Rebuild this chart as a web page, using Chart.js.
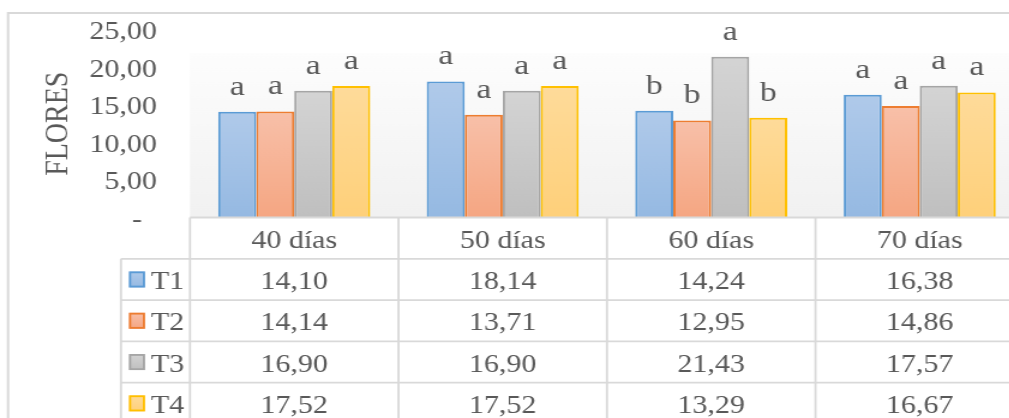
<!DOCTYPE html>
<html>
<head>
<meta charset="utf-8">
<script src="https://cdn.jsdelivr.net/npm/chart.js@4.4.1/dist/chart.umd.min.js"></script>
<style>
  html, body { margin: 0; padding: 0; overflow: hidden; background: #fff; }
  /* the sheet is drawn narrower, then widened horizontally */
  #wrap { width: 880px; height: 418px; transform: scaleX(1.2); transform-origin: 0 0; }
</style>
</head>
<body>
<div id="wrap"><canvas id="c" width="880" height="418"></canvas></div>
<script>
// ---- data ----
const categories = ['40 días', '50 días', '60 días', '70 días'];
const seriesNames = ['T1', 'T2', 'T3', 'T4'];
const t1Values = [14.10, 18.14, 14.24, 16.38];
const t2Values = [14.14, 13.71, 12.95, 14.86];
const t3Values = [16.90, 16.90, 21.43, 17.57];
const t4Values = [17.52, 17.52, 13.29, 16.67];
const t1Letters = ['a', 'a', 'b', 'a'];
const t2Letters = ['a', 'a', 'b', 'a'];
const t3Letters = ['a', 'a', 'a', 'a'];
const t4Letters = ['a', 'a', 'b', 'a'];
const yTicks = [0, 5, 10, 15, 20, 25];
const yTitle = 'FLORES';

const seriesValues = [t1Values, t2Values, t3Values, t4Values];
const seriesLetters = [t1Letters, t2Letters, t3Letters, t4Letters];

// ---- styles ----
const FONT = "'Liberation Serif', 'Times New Roman', serif";
const TEXT = '#595959';
const GRID = '#d9d9d9';
const palette = [
  { top: '#b0caea', bottom: '#95b9e2', border: '#5b9bd5' },
  { top: '#f8c0a9', bottom: '#f5a682', border: '#ed7d31' },
  { top: '#d4d4d4', bottom: '#bfbfbf', border: '#a5a5a5' },
  { top: '#fedb9a', bottom: '#fed07a', border: '#ffc000' }
];
const fmt = v => v.toFixed(2).replace('.', ',');

function barFill(i) {
  return (ctx) => {
    const chart = ctx.chart;
    const area = chart.chartArea;
    if (!area || ctx.type !== 'data') return palette[i].top;
    const top = chart.scales.y.getPixelForValue(ctx.raw);
    const g = chart.ctx.createLinearGradient(0, top, 0, area.bottom);
    g.addColorStop(0, palette[i].top);
    g.addColorStop(1, palette[i].bottom);
    return g;
  };
}

// outer frame and plot-area shading
const framePlugin = {
  id: 'frame',
  beforeDraw(chart) {
    const { ctx, chartArea: a, width, height } = chart;
    ctx.save();
    ctx.fillStyle = '#ffffff';
    ctx.fillRect(0, 0, width, height);
    const shadeTop = 53;
    const g = ctx.createLinearGradient(0, shadeTop, 0, a.bottom);
    g.addColorStop(0, '#fdfdfd');
    g.addColorStop(1, '#f1f1f1');
    ctx.fillStyle = g;
    ctx.fillRect(a.left, shadeTop, a.right - a.left, a.bottom - shadeTop);
    ctx.strokeStyle = GRID;
    ctx.lineWidth = 2;
    ctx.beginPath();
    ctx.moveTo(6.7, height);
    ctx.lineTo(6.7, 13);
    ctx.lineTo(width, 13);
    ctx.stroke();
    ctx.restore();
  }
};

// significance letters above each bar
const lettersPlugin = {
  id: 'letters',
  afterDatasetsDraw(chart) {
    const ctx = chart.ctx;
    ctx.save();
    ctx.fillStyle = TEXT;
    ctx.font = `28px ${FONT}`;
    ctx.textAlign = 'center';
    ctx.textBaseline = 'alphabetic';
    chart.data.datasets.forEach((ds, i) => {
      chart.getDatasetMeta(i).data.forEach((bar, j) => {
        ctx.fillText(seriesLetters[i][j], bar.x, bar.y - 17);
      });
    });
    ctx.restore();
  }
};

// data table under the plot
const tablePlugin = {
  id: 'dataTable',
  afterDraw(chart) {
    const { ctx, chartArea: a, width, height } = chart;
    const xs = chart.scales.x;
    const rowH = 41.3;
    const top = a.bottom;
    const legendLeft = 100.8;
    const half = (a.right - a.left) / categories.length / 2;
    ctx.save();
    ctx.strokeStyle = GRID;
    ctx.lineWidth = 1.8;
    ctx.beginPath();
    ctx.moveTo(a.left, top); ctx.lineTo(width, top);
    for (let r = 1; r <= seriesNames.length + 1; r++) {
      ctx.moveTo(legendLeft, top + r * rowH); ctx.lineTo(width, top + r * rowH);
    }
    ctx.moveTo(legendLeft, top + rowH); ctx.lineTo(legendLeft, height);
    ctx.moveTo(a.left, top); ctx.lineTo(a.left, height);
    categories.forEach((c, j) => {
      const xr = xs.getPixelForValue(j) + half;
      ctx.moveTo(xr, top); ctx.lineTo(xr, height);
    });
    ctx.stroke();

    ctx.fillStyle = TEXT;
    ctx.font = `25px ${FONT}`;
    ctx.textBaseline = 'alphabetic';
    ctx.textAlign = 'center';
    categories.forEach((c, j) => {
      ctx.fillText(c, xs.getPixelForValue(j), top + rowH / 2 + 9.5);
    });
    seriesNames.forEach((name, i) => {
      const cy = top + rowH * (i + 1) + rowH / 2;
      // legend key
      const kx = 107.5, kw = 13.3, kh = 16;
      const g = ctx.createLinearGradient(0, cy - kh / 2, 0, cy + kh / 2);
      g.addColorStop(0, palette[i].top);
      g.addColorStop(1, palette[i].bottom);
      ctx.fillStyle = g;
      ctx.fillRect(kx, cy - kh / 2, kw, kh);
      ctx.strokeStyle = palette[i].border;
      ctx.lineWidth = 1.8;
      ctx.strokeRect(kx + 0.9, cy - kh / 2 + 0.9, kw - 1.8, kh - 1.8);
      ctx.fillStyle = TEXT;
      ctx.textAlign = 'left';
      ctx.fillText(name, 125.8, cy + 9.5);
      ctx.textAlign = 'center';
      seriesValues[i].forEach((v, j) => {
        ctx.fillText(fmt(v), xs.getPixelForValue(j), cy + 9.5);
      });
    });
    ctx.restore();
  }
};

new Chart(document.getElementById('c'), {
  type: 'bar',
  data: {
    labels: categories,
    datasets: seriesNames.map((name, i) => ({
      label: name,
      data: seriesValues[i],
      backgroundColor: barFill(i),
      borderColor: palette[i].border,
      borderWidth: 2,
      borderSkipped: 'bottom',
      categoryPercentage: 0.729,
      barPercentage: 1
    }))
  },
  options: {
    responsive: false,
    devicePixelRatio: 1,
    animation: false,
    layout: { padding: { left: 0, right: 26.7, top: 30, bottom: 200.5 } },
    plugins: { legend: { display: false }, tooltip: { enabled: false } },
    scales: {
      x: { display: false },
      y: {
        min: 0,
        max: 25,
        afterFit(scale) { scale.width = 158.3; },
        afterBuildTicks(scale) { scale.ticks = yTicks.map(v => ({ value: v })); },
        // tick marks are hidden; their length only sets the label gap
        grid: { display: false, drawTicks: true, tickLength: 27.5 },
        border: { display: false },
        ticks: {
          padding: 0,
          color: TEXT,
          // a short blank first line nudges each label slightly below its tick
          font: { family: FONT, size: 25, lineHeight: 0.2 },
          callback: v => ['', v === 0 ? '-  ' : fmt(v)]
        },
        title: {
          display: true,
          text: yTitle,
          color: TEXT,
          font: { family: FONT, size: 28, lineHeight: 1.2 },
          padding: { top: 31.5, bottom: 0 }
        }
      }
    }
  },
  plugins: [framePlugin, lettersPlugin, tablePlugin]
});
</script>
</body>
</html>
